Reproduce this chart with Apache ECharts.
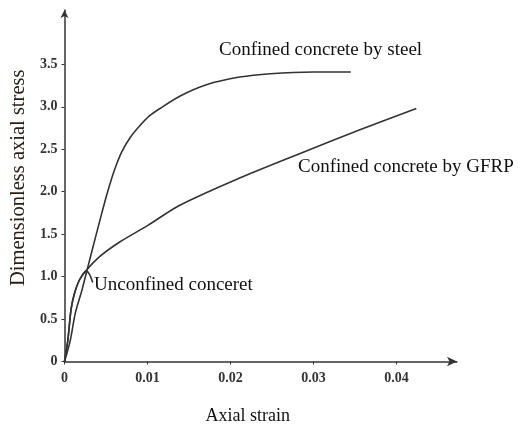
<!DOCTYPE html>
<html>
<head>
<meta charset="utf-8">
<script src="https://cdn.jsdelivr.net/npm/echarts@6/dist/echarts.min.js"></script>
<style>
html,body{margin:0;padding:0;background:#fff;}
#chart{width:531px;height:428px;}
</style>
</head>
<body>
<div id="chart"></div>
<script>
// Data (x: axial strain, y: dimensionless axial stress)
const steelCurve = [[0,0],[0.0007,0.25],[0.0013,0.57],[0.0021,0.84],[0.0027,1.07],[0.0037,1.45],[0.0045,1.75],[0.0052,2.00],[0.0060,2.25],[0.0069,2.47],[0.0080,2.65],[0.0091,2.78],[0.0102,2.89],[0.0115,2.98],[0.0140,3.13],[0.0171,3.26],[0.0211,3.35],[0.0248,3.39],[0.0300,3.41],[0.0345,3.41]];
const gfrpCurve = [[0,0],[0.0004,0.25],[0.0008,0.62],[0.0012,0.80],[0.0018,0.96],[0.0026,1.07],[0.0043,1.24],[0.0067,1.41],[0.0100,1.60],[0.0139,1.84],[0.0211,2.16],[0.0284,2.45],[0.0356,2.73],[0.0424,2.98]];
const unconfinedCurve = [[0,0],[0.0004,0.25],[0.0008,0.62],[0.0012,0.80],[0.0018,0.96],[0.0026,1.065],[0.0030,1.03],[0.0034,0.93]];

const xTickValues = [0, 0.01, 0.02, 0.03, 0.04];
const xTickLabels = ['0', '0.01', '0.02', '0.03', '0.04'];
const yTickValues = [0, 0.5, 1.0, 1.5, 2.0, 2.5, 3.0, 3.5];
const yTickLabels = ['0', '0.5', '1.0', '1.5', '2.0', '2.5', '3.0', '3.5'];

const seriesNames = ['Confined concrete by steel', 'Confined concrete by GFRP', 'Unconfined conceret'];
const xTitle = 'Axial strain';
const yTitle = 'Dimensionless axial stress';

const serif = '"Liberation Serif", "DejaVu Serif", serif';
const chart = echarts.init(document.getElementById('chart'), null, {renderer: 'canvas'});

const lineStyle = {color: '#333', width: 1.6};
function mkSeries(name, data) {
  return {name, type: 'line', data, smooth: 0.3, showSymbol: false, symbol: 'none',
    lineStyle, silent: true, animation: false};
}

chart.setOption({
  backgroundColor: '#fff',
  animation: false,
  grid: {left: 64.5, right: 74, top: 10, bottom: 66.5, containLabel: false, outerBoundsMode: 'none'},
  xAxis: {
    type: 'value', min: 0, max: 0.0473,
    axisLine: {show: true, onZero: false, symbol: ['none', 'arrow'], symbolSize: [7, 10], lineStyle: {color: '#333', width: 1.5}},
    axisTick: {show: true, length: 3, inside: false, customValues: xTickValues, lineStyle: {color: '#333'}},
    axisLabel: {customValues: xTickValues, margin: 10, fontFamily: serif, fontSize: 14, fontWeight: 'bold', color: '#333',
      formatter: v => { const i = xTickValues.findIndex(t => Math.abs(t - v) < 1e-9); return i >= 0 ? xTickLabels[i] : ''; }},
    splitLine: {show: false},
    name: xTitle, nameLocation: 'middle', nameGap: 46,
    nameTextStyle: {fontFamily: serif, fontSize: 18, color: '#111', padding: [0, 26, 0, 0]}
  },
  yAxis: {
    type: 'value', min: 0, max: 4.14,
    axisLine: {show: true, onZero: false, symbol: ['none', 'arrow'], symbolSize: [6, 8], lineStyle: {color: '#333', width: 1.5}},
    axisTick: {show: true, length: 3, inside: false, customValues: yTickValues, lineStyle: {color: '#333'}},
    axisLabel: {customValues: yTickValues, margin: 7, fontFamily: serif, fontSize: 14, fontWeight: 'bold', color: '#333',
      formatter: v => { const i = yTickValues.findIndex(t => Math.abs(t - v) < 1e-9); return i >= 0 ? yTickLabels[i] : ''; }},
    splitLine: {show: false},
    name: yTitle, nameLocation: 'middle', nameGap: 30, nameRotate: 90,
    nameTextStyle: {fontFamily: serif, fontSize: 20.5, color: '#2a2018', padding: [0, 0, 0, 16]}
  },
  series: [
    mkSeries(seriesNames[0], steelCurve),
    mkSeries(seriesNames[1], gfrpCurve),
    mkSeries(seriesNames[2], unconfinedCurve)
  ],
  graphic: [
    {type: 'text', left: 219, top: 41, style: {text: seriesNames[0], font: '19px ' + serif, fill: '#111'}},
    {type: 'text', left: 298, top: 158, style: {text: seriesNames[1], font: '19px ' + serif, fill: '#111'}},
    {type: 'text', left: 94, top: 276, style: {text: seriesNames[2], font: '19px ' + serif, fill: '#111'}}
  ]
});
</script>
</body>
</html>
